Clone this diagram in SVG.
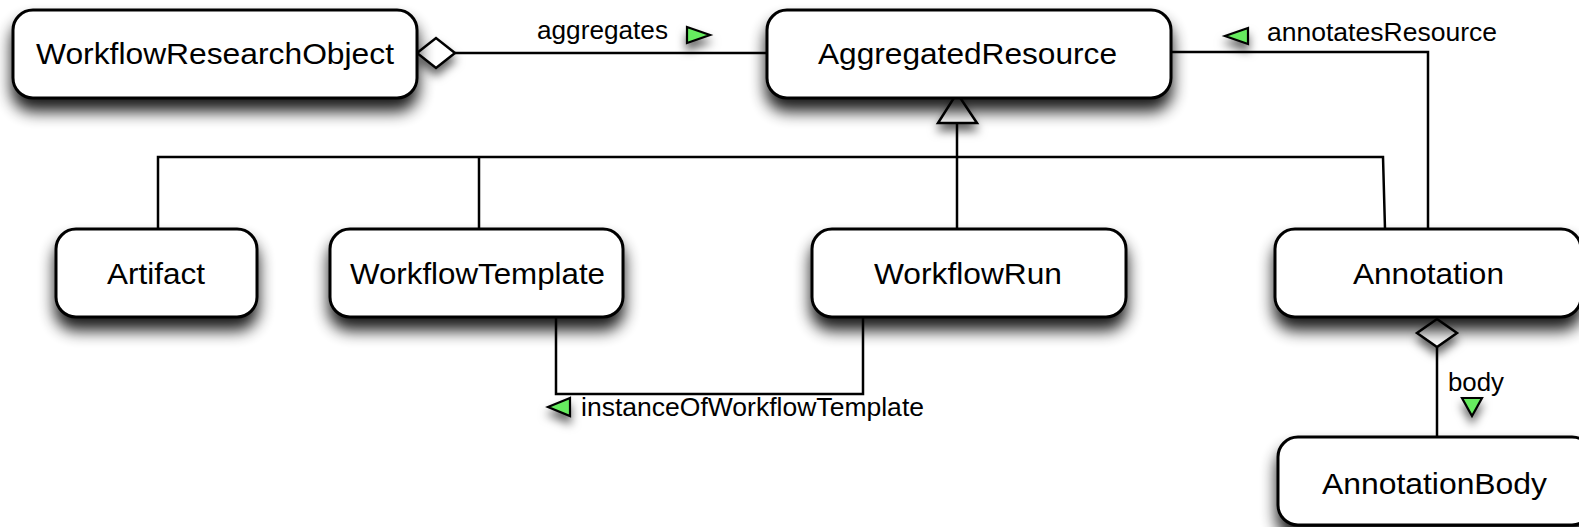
<svg xmlns="http://www.w3.org/2000/svg" width="1579" height="527" viewBox="0 0 1579 527">
  <defs>
    <filter id="shadow" x="-20%" y="-40%" width="140%" height="210%">
      <feGaussianBlur in="SourceAlpha" stdDeviation="8"/>
      <feOffset dx="0" dy="12" result="blur"/>
      <feComponentTransfer>
        <feFuncA type="linear" slope="0.9"/>
      </feComponentTransfer>
      <feMerge>
        <feMergeNode/>
        <feMergeNode in="SourceGraphic"/>
      </feMerge>
    </filter>
    <filter id="softShadow" x="-80%" y="-80%" width="260%" height="300%">
      <feDropShadow dx="0" dy="7" stdDeviation="5" flood-color="#000" flood-opacity="0.6"/>
    </filter>
  </defs>
  <style>
    .node rect { fill: #fff; stroke: #000; stroke-width: 3; filter: url(#shadow); }
    .node text { font-family: "Liberation Sans", Arial, sans-serif; font-size: 30px; fill: #000; }
    .edge { fill: none; stroke: #000; stroke-width: 2.5; }
    .head { fill: #fff; stroke: #000; stroke-width: 2.5; stroke-linejoin: miter; filter: url(#softShadow); }
    .dir { fill: #66ec5e; stroke: #000; stroke-width: 2.2; filter: url(#softShadow); }
    .label { font-family: "Liberation Sans", Arial, sans-serif; font-size: 25px; fill: #000; }
  </style>

  <!-- connectors -->
  <g id="connectors">
    <!-- aggregation: WorkflowResearchObject to AggregatedResource -->
    <line class="edge" x1="455" y1="53" x2="767" y2="53"/>
    <!-- annotatesResource: Annotation to AggregatedResource -->
    <polyline class="edge" points="1171,52 1428,52 1428,229"/>
    <!-- generalization tree -->
    <line class="edge" x1="957" y1="123" x2="957" y2="229"/>
    <polyline class="edge" points="158,229 158,157 1383,157 1385,229"/>
    <line class="edge" x1="479" y1="157" x2="479" y2="229"/>
    <!-- instanceOfWorkflowTemplate -->
    <polyline class="edge" points="556,317 556,394 863,394 863,317"/>
    <!-- body: Annotation to AnnotationBody -->
    <line class="edge" x1="1437" y1="347" x2="1437" y2="437"/>

    <!-- end shapes -->
    <polygon class="head" points="417,53 436,38 455,53 436,68"/>
    <polygon class="head" points="957,93 977,123 938,123"/>
    <polygon class="head" points="1437,319 1457,333 1437,347 1417,333"/>

    <!-- direction markers and labels -->
    <polygon class="dir" points="687,27 710,35 687,43"/>
    <text class="label" x="537" y="39" textLength="131" lengthAdjust="spacingAndGlyphs">aggregates</text>
    <polygon class="dir" points="1248,28 1225,36 1248,44"/>
    <text class="label" x="1267" y="41" textLength="230" lengthAdjust="spacingAndGlyphs">annotatesResource</text>
    <polygon class="dir" points="570,398 548,407 570,416"/>
    <text class="label" x="581" y="416" textLength="343" lengthAdjust="spacingAndGlyphs">instanceOfWorkflowTemplate</text>
    <polygon class="dir" points="1462,398 1482,398 1472,416"/>
    <text class="label" x="1448" y="391" textLength="56" lengthAdjust="spacingAndGlyphs">body</text>
  </g>

  <!-- nodes -->
  <g id="WorkflowResearchObject" class="node">
    <rect x="13" y="10" width="404" height="88" rx="20"/>
    <text x="36" y="64" textLength="358" lengthAdjust="spacingAndGlyphs">WorkflowResearchObject</text>
  </g>
  <g id="AggregatedResource" class="node">
    <rect x="767" y="10" width="404" height="88" rx="20"/>
    <text x="818" y="64" textLength="299" lengthAdjust="spacingAndGlyphs">AggregatedResource</text>
  </g>
  <g id="Artifact" class="node">
    <rect x="56" y="229" width="201" height="88" rx="20"/>
    <text x="107" y="284" textLength="98" lengthAdjust="spacingAndGlyphs">Artifact</text>
  </g>
  <g id="WorkflowTemplate" class="node">
    <rect x="330" y="229" width="293" height="88" rx="20"/>
    <text x="350" y="284" textLength="255" lengthAdjust="spacingAndGlyphs">WorkflowTemplate</text>
  </g>
  <g id="WorkflowRun" class="node">
    <rect x="812" y="229" width="314" height="88" rx="20"/>
    <text x="874" y="284" textLength="188" lengthAdjust="spacingAndGlyphs">WorkflowRun</text>
  </g>
  <g id="Annotation" class="node">
    <rect x="1275" y="229" width="306" height="88" rx="20"/>
    <text x="1353" y="284" textLength="151" lengthAdjust="spacingAndGlyphs">Annotation</text>
  </g>
  <g id="AnnotationBody" class="node">
    <rect x="1278" y="437" width="314" height="88" rx="20"/>
    <text x="1322" y="494" textLength="225" lengthAdjust="spacingAndGlyphs">AnnotationBody</text>
  </g>
</svg>
